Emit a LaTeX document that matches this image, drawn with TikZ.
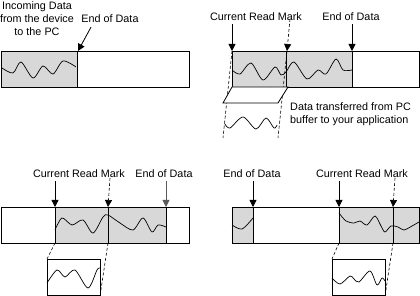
\documentclass[tikz,border=0pt]{standalone}
\usepackage{fontspec}
\setmainfont{Liberation Sans}
\usetikzlibrary{arrows.meta,calc}
\definecolor{bufgray}{RGB}{216,216,216}
\definecolor{edgegray}{RGB}{90,90,90}

\begin{document}
\begin{tikzpicture}[x=1pt, y=-1pt,
  every node/.style={font=\fontsize{10.8}{13}\selectfont, inner sep=0pt},
  lbl/.style={align=center},
  buf/.style={draw=black, line width=0.8pt},
  ptr/.style={-{Triangle[width=7pt,length=7pt]}, line width=0.8pt},
  proj/.style={dash pattern=on 3pt off 2pt, line width=0.6pt},
  wave/.style={line width=0.7pt}
]
\useasboundingbox (0,0) rectangle (420,296);

% top left
\fill[bufgray] (1,51) rectangle (77,87);
\draw[buf] (1,51) rectangle (189,87);
\draw[buf] (77,51) -- (77,87);
\draw[wave] plot[smooth] coordinates {(2,68) (13,73) (21,62) (33,78) (43,66) (53,74) (63,61) (76,67)};
\node[lbl] (inc1) at (37,19) {Incoming Data\\from the device\\to the PC};
\node (eod1) at (110,19) {End of Data};
\coordinate (end1) at (78,51);
\draw[ptr] ([xshift=-19pt,yshift=-4pt]eod1.south) -- (end1);

% top right
\fill[bufgray] (232,51) rectangle (352,87);
\draw[buf] (232,51) rectangle (419,87);
\draw[buf] (286,51) -- (286,87);
\draw[buf] (352,51) -- (352,87);
\draw[wave] plot[smooth] coordinates {(232,70) (240,74) (251,63) (263,80) (275,67) (281,75) (286,72) (294,62) (307,79) (318,70) (326,74) (336,59) (343,70) (352,70)};
\node (crm2) at (256,17) {Current Read Mark};
\node (eod2) at (351,17) {End of Data};
\coordinate (rd2a) at (232,51);
\coordinate (rd2b) at (287,51);
\coordinate (end2) at (352,51);
\coordinate (top2) at (290,19);
\coordinate (low2a) at (223,138);
\coordinate (low2b) at (278,138);
\draw[ptr] (crm2.south -| rd2a) ++(0,3) -- (rd2a);
\draw[ptr] (eod2.south -| end2) ++(0,3) -- (end2);
\draw[ptr, proj] (top2) -- (rd2b);
\draw[proj] (rd2a) -- (low2a);
\draw[proj] (rd2b) -- (low2b);
\draw[buf, fill=white] (232,87) -- (288,87) -- (278,103) -- (223,103) -- cycle;
\draw[wave] plot[smooth] coordinates {(225,124) (230,128) (243,117) (256,129) (266,118) (274,128) (277,125)};
\node[align=left, anchor=west] (xfer) at (290,114.5) {Data transferred from PC\\buffer to your application};

% bottom left
\fill[bufgray] (55,207) rectangle (166,243);
\draw[buf] (1,207) rectangle (189,243);
\foreach \x in {55,108,166}
  \draw[buf] (\x,207) -- (\x,243);
\draw[wave] plot[smooth] coordinates {(55,230) (62,218) (72,225) (83,220) (93,233) (103,217) (108,215) (120,223) (133,230) (143,218) (152,232) (158,225) (166,227)};
\node (crm3) at (79,174) {Current Read Mark};
\node (eod3) at (164,174) {End of Data};
\coordinate (rd3a) at (55,207);
\coordinate (rd3b) at (108,207);
\coordinate (end3) at (166,207);
\coordinate (top3) at (110,178);
\draw[ptr] (crm3.south -| rd3a) ++(0,3) -- (rd3a);
\draw[ptr, edgegray] (eod3.south -| end3) ++(0,3) -- (end3);
\draw[ptr, proj] (top3) -- (rd3b);
\draw[proj] (55,243) -- (47,259);
\draw[proj] (108,243) -- (100,296);
\draw[buf, fill=white] (47,259) rectangle (100,295);
\draw[wave] plot[smooth] coordinates {(47,283) (57,270) (65,277) (75,270) (88,288) (97,270) (100,268)};

% bottom right
\fill[bufgray] (232,207) rectangle (253,243);
\fill[bufgray] (339,207) rectangle (419,243);
\draw[buf] (232,207) rectangle (419,243);
\foreach \x in {253,339,393}
  \draw[buf] (\x,207) -- (\x,243);
\draw[wave] plot[smooth] coordinates {(232,225) (242,229) (253,218)};
\draw[wave] plot[smooth] coordinates {(339,213) (346,221) (354,223) (360,221) (367,225) (375,216) (381,226) (385,232) (391,226) (398,227) (404,230) (412,226) (419,222)};
\node (eod4) at (252,174) {End of Data};
\node (crm4) at (362,174) {Current Read Mark};
\coordinate (end4) at (253,207);
\coordinate (rd4a) at (339,207);
\coordinate (rd4b) at (393,207);
\coordinate (top4) at (395,178);
\draw[ptr] (eod4.south -| end4) ++(0,3) -- (end4);
\draw[ptr] (crm4.south -| rd4a) ++(0,3) -- (rd4a);
\draw[ptr, proj] (top4) -- (rd4b);
\draw[proj] (339,243) -- (332,259);
\draw[proj] (393,243) -- (385,296);
\draw[buf, fill=white] (332,259) rectangle (385,295);
\draw[wave] plot[smooth] coordinates {(332,278) (340,284) (350,276) (354,279) (359,282) (370,271) (377,285) (382,278) (385,281)};
\end{tikzpicture}
\end{document}
